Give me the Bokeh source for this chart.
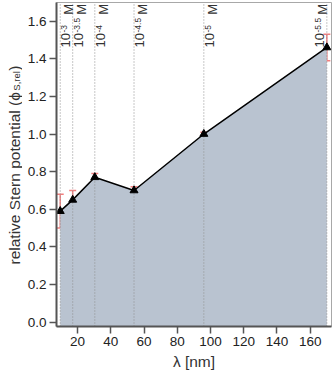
import math
from bokeh.plotting import figure
from bokeh.layouts import row
from bokeh.models import ColumnDataSource, Whisker, TeeHead, Range1d, FixedTicker
from bokeh.core.properties import value
from bokeh.embed import file_html
from bokeh.resources import INLINE

# ---- data ----
lam = [9.6, 17.1, 30.4, 54.0, 96.0, 170.0]          # Debye length [nm]
phi = [0.59, 0.65, 0.77, 0.70, 1.00, 1.46]          # relative Stern potential
err_lo = [0.50, 0.60, 0.75, 0.68, 0.99, 1.39]
err_hi = [0.68, 0.70, 0.79, 0.72, 1.01, 1.53]
conc_exp = ["-3", "-3.5", "-4", "-4.5", "-5", "-5.5"]
x_ticks = [20, 40, 60, 80, 100, 120, 140, 160]
y_ticks = [0.0, 0.2, 0.4, 0.6, 0.8, 1.0, 1.2, 1.4, 1.6]

X0, X1 = 7.36, 172.8
Y0, Y1 = -0.023, 1.699
TITLE_W = 22
W_FIG, H_FIG = 334 - TITLE_W, 374
BL, BR, BT, BB = 34, 3, 2, 48
FONT = "Liberation Sans"
TXT = "#333333"

p = figure(output_backend="svg", toolbar_location=None,
           x_range=Range1d(X0, X1), y_range=Range1d(Y0, Y1),
           width=W_FIG, height=H_FIG,
           min_border_left=BL, min_border_right=BR,
           min_border_top=BT, min_border_bottom=BB)
p.background_fill_color = "white"
p.border_fill_color = "white"
p.outline_line_color = "#a8a8a8"
p.outline_line_width = 1
p.grid.visible = False

# label side: right of the line except for the last one
lab_dx = [1, 1, 1, 1, 1, -12]

src = ColumnDataSource(dict(x=lam, y=phi, lo=err_lo, hi=err_hi,
                            base=[Y0] * len(lam), top=[Y1] * len(lam),
                            e=conc_exp, ten=["10"] * len(lam), m=["M"] * len(lam),
                            dx=lab_dx))

# filled area under curve
p.varea(x="x", y1="base", y2="y", source=src, fill_color="#b9c3d0", fill_alpha=1.0)

# vertical dotted lines
p.segment(x0="x", y0="base", x1="x", y1="top", source=src,
          line_color="#8f8f8f", line_width=1, line_dash="1 2")

# line
p.line("x", "y", source=src, line_color="black", line_width=1.5)

# error bars
ERR = "#f28080"
wh = Whisker(base="x", upper="hi", lower="lo", source=src, dimension="height",
             line_color=ERR, line_width=1.5,
             upper_head=TeeHead(size=7, line_color=ERR, line_width=1.5),
             lower_head=TeeHead(size=7, line_color=ERR, line_width=1.5))
p.add_layout(wh)

# markers
p.scatter("x", "y", source=src, marker="triangle", size=8,
          fill_color="black", line_color="black")

# concentration labels (rotated)
p.text(x="x", y="top", text="ten", source=src, angle=math.pi / 2,
       text_align="left", text_baseline="top", x_offset="dx", y_offset=45,
       text_font=value(FONT), text_font_size="13px", text_color=TXT)
p.text(x="x", y="top", text="e", source=src, angle=math.pi / 2,
       text_align="left", text_baseline="top", x_offset="dx", y_offset=30,
       text_font=value(FONT), text_font_size="8.5px", text_color=TXT)
p.text(x="x", y="top", text="m", source=src, angle=math.pi / 2,
       text_align="right", text_baseline="top", x_offset="dx", y_offset=1.5,
       text_font=value(FONT), text_font_size="13px", text_color=TXT)

# axes
for ax in (p.xaxis[0], p.yaxis[0]):
    ax.axis_line_color = "#555555"
    ax.axis_line_width = 2
    ax.major_tick_line_color = "#555555"
    ax.major_tick_line_width = 1.5
    ax.major_tick_out = 7
    ax.major_tick_in = 0
    ax.minor_tick_line_color = None
    ax.major_label_text_font = FONT
    ax.major_label_text_font_size = "13.5px"
    ax.major_label_text_color = "#222222"
    ax.major_label_standoff = 3
    ax.axis_label_text_font = FONT
    ax.axis_label_text_font_style = "normal"
    ax.axis_label_text_font_size = "15.5px"
    ax.axis_label_text_color = TXT

p.xaxis.ticker = FixedTicker(ticks=x_ticks)
p.yaxis.ticker = FixedTicker(ticks=y_ticks)
p.yaxis.major_label_overrides = {v: f"{v:.1f}" for v in y_ticks}
p.xaxis.axis_label = "λ [nm]"
p.xaxis.axis_label_standoff = 4

# ---- y-axis title strip (with subscript), same vertical frame as the plot ----
t = figure(output_backend="svg", toolbar_location=None,
           x_range=Range1d(0, TITLE_W), y_range=Range1d(Y0, Y1),
           width=TITLE_W, height=H_FIG,
           min_border_left=0, min_border_right=0,
           min_border_top=BT, min_border_bottom=BB,
           x_axis_location=None, y_axis_location=None)
t.grid.visible = False
t.outline_line_color = None
t.background_fill_color = "white"
t.border_fill_color = "white"

W = {'r': .333, 'e': .556, 'l': .222, 'a': .556, 't': .278, 'i': .222, 'v': .5,
     ' ': .278, 'S': .667, 'n': .556, 'p': .556, 'o': .556, '(': .333, ')': .333,
     'ϕ': .62, ',': .278}
def tw(s, size):
    return sum(W.get(c, .556) for c in s) * size

main_txt, sub_txt, close_txt = "relative Stern potential (ϕ", "S,rel", ")"
MS, SS = 15.5, 9.5
w_main, w_sub, w_close = tw(main_txt, MS), tw(sub_txt, SS), tw(close_txt, MS)
half = (w_main + w_sub + w_close) / 2 + 1
y_mid = (Y0 + Y1) / 2
bx = 13.5
offs = [half, half - w_main - 0.5, half - w_main - w_sub - 1]   # px, positive = down
tsrc = ColumnDataSource(dict(x=[bx, bx + 2, bx], y=[y_mid] * 3, yo=offs,
                             txt=[main_txt, sub_txt, close_txt],
                             fs=[f"{MS}px", f"{SS}px", f"{MS}px"]))
t.text(x="x", y="y", y_offset="yo", text="txt", source=tsrc, angle=math.pi / 2,
       text_align="left", text_baseline="alphabetic",
       text_font=value(FONT), text_font_size="fs", text_color=TXT)

layout = row(t, p, spacing=0)
open("out.html", "w").write(file_html(layout, INLINE))
